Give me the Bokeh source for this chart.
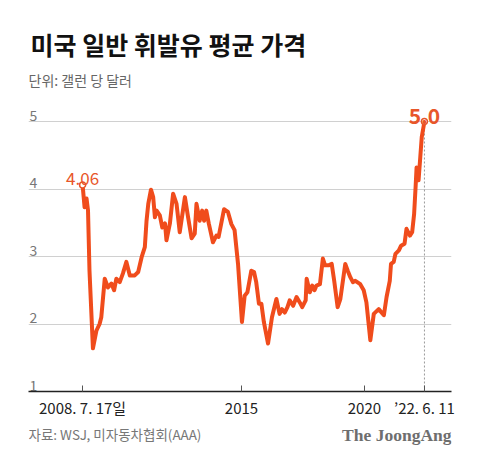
from bokeh.plotting import figure
from bokeh.layouts import column
from bokeh.models import Range1d, FixedTicker, Label
from bokeh.core.properties import value
from bokeh.embed import file_html
from bokeh.resources import INLINE

# ---- data (decimal years, US average gasoline price in $/gallon) ----
years = [
    2008.54, 2008.62, 2008.70, 2008.76, 2008.82, 2008.96, 2009.10, 2009.23, 2009.30, 2009.44,
    2009.57, 2009.71, 2009.82, 2009.91, 2010.05, 2010.18, 2010.32, 2010.46, 2010.66, 2010.80,
    2010.94, 2011.07, 2011.14, 2011.21, 2011.32, 2011.41, 2011.48, 2011.55, 2011.68, 2011.78,
    2011.89, 2011.95, 2012.09, 2012.22, 2012.36, 2012.49, 2012.70, 2012.83, 2012.97, 2013.10,
    2013.17, 2013.30, 2013.40, 2013.48, 2013.57, 2013.67, 2013.84, 2013.98, 2014.07, 2014.29,
    2014.45, 2014.59, 2014.72, 2014.86, 2015.02, 2015.13, 2015.24, 2015.40, 2015.51, 2015.60,
    2015.71, 2015.81, 2015.91, 2016.08, 2016.24, 2016.42, 2016.55, 2016.65, 2016.76, 2016.87,
    2016.96, 2017.10, 2017.24, 2017.37, 2017.47, 2017.61, 2017.65, 2017.78, 2017.88, 2017.97,
    2018.05, 2018.19, 2018.31, 2018.40, 2018.54, 2018.67, 2018.77, 2018.91, 2019.02, 2019.22,
    2019.32, 2019.43, 2019.53, 2019.63, 2019.83, 2019.97, 2020.08, 2020.24, 2020.38, 2020.58,
    2020.79, 2020.90, 2021.03, 2021.08, 2021.19, 2021.26, 2021.40, 2021.49, 2021.63, 2021.71,
    2021.85, 2021.94, 2022.02, 2022.08, 2022.12, 2022.20, 2022.27, 2022.33, 2022.44,
]
prices = [
    4.06, 3.73, 3.86, 3.68, 2.79, 1.64, 1.90, 2.00, 2.10, 2.67,
    2.54, 2.60, 2.50, 2.67, 2.62, 2.75, 2.92, 2.72, 2.72, 2.77,
    2.99, 3.14, 3.53, 3.78, 3.99, 3.88, 3.58, 3.68, 3.61, 3.43,
    3.49, 3.24, 3.49, 3.93, 3.78, 3.36, 3.88, 3.58, 3.27, 3.34,
    3.78, 3.53, 3.68, 3.53, 3.68, 3.49, 3.21, 3.31, 3.29, 3.70,
    3.66, 3.48, 3.39, 2.89, 2.03, 2.42, 2.47, 2.79, 2.77, 2.62,
    2.30, 2.30, 2.03, 1.71, 2.10, 2.37, 2.15, 2.22, 2.17, 2.25,
    2.35, 2.27, 2.40, 2.32, 2.25, 2.35, 2.67, 2.47, 2.57, 2.50,
    2.57, 2.59, 2.97, 2.87, 2.87, 2.89, 2.64, 2.25, 2.37, 2.89,
    2.79, 2.69, 2.62, 2.64, 2.59, 2.50, 2.32, 1.76, 2.15, 2.22,
    2.13, 2.40, 2.64, 2.89, 2.92, 3.04, 3.09, 3.16, 3.19, 3.41,
    3.31, 3.36, 3.63, 4.03, 4.32, 4.13, 4.47, 4.77, 5.00,
]

start_label = "4.06"
end_label = "5.0"

x_ticks = [2008.54, 2015, 2020, 2022.44]
x_tick_labels = ["2008. 7. 17일", "2015", "2020", "\u201922. 6. 11"]
y_ticks = [1, 2, 3, 4, 5]
y_tick_labels = ["1", "2", "3", "4", "5"]
grid_ticks = [2, 3, 4, 5]

title_text = "미국 일반 휘발유 평균 가격"
subtitle_text = "단위: 갤런 당 달러"
source_text = "자료: WSJ, 미자동차협회(AAA)"
logo_text = "The JoongAng"

ORANGE = "#f04c1c"
LABEL_ORANGE = "#e8562a"
KR = "Noto Sans CJK KR"

X0, X1 = 2006.34, 2023.54
Y0, Y1 = 1.0, 6.793

p = figure(width=480, height=423,
           x_range=Range1d(X0, X1), y_range=Range1d(Y0, Y1),
           output_backend="svg", toolbar_location=None,
           y_axis_location=None,
           min_border_left=28, min_border_right=29,
           min_border_top=0, min_border_bottom=32)
p.outline_line_color = None
p.background_fill_color = "white"
p.border_fill_color = "white"

p.xgrid.visible = False
p.ygrid.ticker = FixedTicker(ticks=grid_ticks)
p.ygrid.grid_line_color = "#d0d0d0"
p.ygrid.grid_line_width = 1

ax = p.xaxis[0]
ax.ticker = FixedTicker(ticks=x_ticks)
ax.major_label_overrides = dict(zip(x_ticks, x_tick_labels))
ax.minor_tick_line_color = None
ax.major_tick_in = 6
ax.major_tick_out = 0
ax.major_tick_line_color = "#555555"
ax.axis_line_color = "#222222"
ax.axis_line_width = 1.5
ax.major_label_text_font = KR
ax.major_label_text_font_size = "15px"
ax.major_label_text_color = "#222222"
ax.major_label_standoff = 5

# y tick labels, drawn above grid lines at the left edge
p.text(x=[X0] * len(y_ticks), y=y_ticks, text=y_tick_labels,
       text_font=value(KR), text_font_size="14px", text_color="#777777",
       text_align="left", text_baseline="bottom", x_offset=1, y_offset=-1)

# dashed guide at the last point
p.segment(x0=[years[-1]], y0=[Y0], x1=[years[-1]], y1=[prices[-1]],
          line_color="#999999", line_width=1, line_dash="2 2")

p.line(years, prices, line_color=ORANGE, line_width=4, line_join="round", line_cap="round")

p.scatter([years[0], years[-1]], [prices[0], prices[-1]], size=6,
          fill_color="white", line_color=LABEL_ORANGE, line_width=1.5)

p.text(x=[years[0]], y=[prices[0]], text=[start_label],
       text_font=value(KR), text_font_size="17px", text_color=LABEL_ORANGE,
       text_align="center", text_baseline="alphabetic", y_offset=-6)
p.text(x=[years[-1]], y=[prices[-1]], text=[end_label],
       text_font=value(KR), text_font_size="21px", text_font_style="bold",
       text_color=LABEL_ORANGE,
       text_align="center", text_baseline="alphabetic", y_offset=-6)

# title and subtitle (screen units, measured from the frame's bottom-left)
p.add_layout(Label(x=2, y=348, x_units="screen", y_units="screen", text=title_text,
                   text_font=KR, text_font_size="25px", text_font_style="bold",
                   text_color="#111111", text_baseline="middle"))
p.add_layout(Label(x=0, y=312, x_units="screen", y_units="screen", text=subtitle_text,
                   text_font=KR, text_font_size="14px",
                   text_color="#666666", text_baseline="middle"))

# footer (its frame is aligned with the chart frame: x 28..451)
f = figure(width=480, height=40, x_range=Range1d(0, 1), y_range=Range1d(0, 1),
           output_backend="svg", toolbar_location=None,
           x_axis_location=None, y_axis_location=None,
           min_border_left=28, min_border_right=29, min_border_top=0, min_border_bottom=0)
f.outline_line_color = None
f.xgrid.visible = False
f.ygrid.visible = False
f.add_layout(Label(x=0, y=30, x_units="screen", y_units="screen", text=source_text,
                   text_font=KR, text_font_size="13.5px",
                   text_color="#777777", text_baseline="middle"))
f.add_layout(Label(x=423, y=28.5, x_units="screen", y_units="screen", text=logo_text,
                   text_font="Liberation Serif", text_font_size="17.5px", text_font_style="bold",
                   text_color="#6e6e6e", text_baseline="middle", text_align="right"))

layout = column(p, f, spacing=0)
open("out.html", "w").write(file_html(layout, INLINE))
